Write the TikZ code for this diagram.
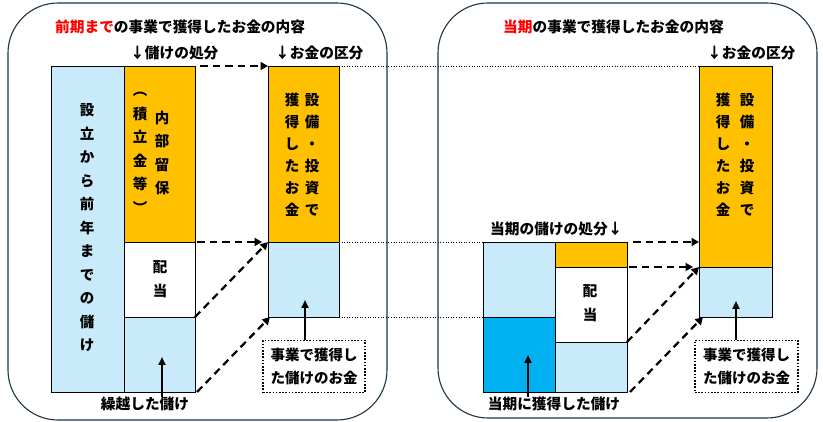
\documentclass[tikz,border=0pt]{standalone}
\usepackage{fontspec}
\setmainfont{Noto Sans CJK JP}
\usetikzlibrary{arrows.meta,calc}
\definecolor{orng}{HTML}{FFC000}
\definecolor{lblue}{HTML}{C8EAFA}
\definecolor{dblue}{HTML}{00B0F0}
\definecolor{framec}{HTML}{1C3445}
\begin{document}
\begin{tikzpicture}[x=1pt,y=-1pt,
 box/.style={draw=black, line width=0.8pt, inner sep=0pt, outer sep=0pt},
 vtext/.style={font=\fontsize{14.5}{23.5}\selectfont\bfseries, align=center, inner sep=0pt},
 vtextb/.style={font=\fontsize{14.5}{22}\selectfont\bfseries, align=center, inner sep=0pt},
 lbl/.style={font=\fontsize{14.7}{23}\selectfont\bfseries, inner sep=0pt},
 darr/.style={dash pattern=on 7.5pt off 5pt, line width=2.2pt, -{Triangle[length=7.5pt,width=8pt]}},
 sarr/.style={line width=2pt, -{Triangle[length=8pt,width=7pt]}},
 dline/.style={dash pattern=on 1pt off 1.6pt, line width=0.9pt},
 dbox/.style={draw=black, dash pattern=on 1.6pt off 1.6pt, line width=1.7pt, inner sep=0pt, align=center, font=\fontsize{14.5}{23}\selectfont\bfseries},
 panel/.style={draw=framec, line width=1.1pt, rounded corners=50pt, inner sep=0pt}]
\useasboundingbox (0,0) rectangle (823,422);

% panels
\node[panel, minimum width=379pt, minimum height=417pt] (PL) at (197.5,211.5) {};
\node[panel, minimum width=379pt, minimum height=415pt] (PR) at (627.5,210.5) {};

% titles
\node[lbl, anchor=west] (TL) at (55,27) {{\color{red}前期まで}の事業で獲得したお金の内容};
\node[lbl, anchor=west] (TR) at (503,27) {{\color{red}当期}の事業で獲得したお金の内容};
\node[lbl, anchor=west] (H1) at (130,53) {↓儲けの処分};
\node[lbl, anchor=west] (H2) at (275,53) {↓お金の区分};
\node[lbl, anchor=west] (H3) at (707,53) {↓お金の区分};
\node[lbl, anchor=west] (H4) at (490,229) {当期の儲けの処分↓};

% left boxes
\node[box, fill=lblue, minimum width=73pt, minimum height=326pt] (L1) at (87.5,229) {};
\node[box, fill=orng, minimum width=71pt, minimum height=176pt] (L2) at (159.5,154) {};
\node[box, fill=white, minimum width=71pt, minimum height=75pt] (L3) at (159.5,279.5) {};
\node[box, fill=lblue, minimum width=71pt, minimum height=75pt] (L4) at (159.5,354.5) {};
% middle boxes
\node[box, fill=orng, minimum width=71pt, minimum height=176pt] (M1) at (303.5,154) {};
\node[box, fill=lblue, minimum width=71pt, minimum height=75pt] (M2) at (303.5,279.5) {};
% right boxes
\node[box, fill=lblue, minimum width=72pt, minimum height=75pt] (R1) at (519,279.5) {};
\node[box, fill=dblue, minimum width=72pt, minimum height=75pt] (R2) at (519,354.5) {};
\node[box, fill=orng, minimum width=72pt, minimum height=25pt] (R3) at (591,254.5) {};
\node[box, fill=white, minimum width=72pt, minimum height=75pt] (R4) at (591,304.5) {};
\node[box, fill=lblue, minimum width=72pt, minimum height=50pt] (R5) at (591,367) {};
\node[box, fill=orng, minimum width=73pt, minimum height=201pt] (C1) at (735.5,166.5) {};
\node[box, fill=lblue, minimum width=73pt, minimum height=50pt] (C2) at (735.5,292) {};

% dotted guide lines
\draw[dline] (M1.north east) -- (C1.north west);
\draw[dline] (M2.north east) -- (R1.north west);
\draw[dline] (M2.south east) -- (R1.south west);

% vertical texts
\node[vtext] (V1) at (87,228) {設\\立\\か\\ら\\前\\年\\ま\\で\\の\\儲\\け};
\node[vtext] (V2) at (162,153) {内\\部\\留\\保};
\node[vtext] (V3) at (140,153) {︵\\積\\立\\金\\等\\︶};
\node[vtext] (V4) at (160,279) {配\\当};
\node[vtextb] (V5) at (312,155) {設\\備\\・\\投\\資\\で};
\node[vtextb] (V6) at (292,155) {獲\\得\\し\\た\\お\\金};
\node[vtextb] (V7) at (747,155) {設\\備\\・\\投\\資\\で};
\node[vtextb] (V8) at (723,155) {獲\\得\\し\\た\\お\\金};
\node[vtext] (V9) at (590,303) {配\\当};

% dashed arrows
\draw[darr] ([xshift=5pt]L2.north east) -- (M1.north west);
\draw[darr] ([xshift=2pt]L2.south east) -- ([xshift=-6pt]M1.south west);
\draw[darr] (L3.south east) -- (M1.south west);
\draw[darr] ([xshift=2pt]L4.south east) -- ([xshift=2pt]M2.south west);
\draw[darr] ([xshift=6pt]R3.north east) -- (C1.west |- R3.north);
\draw[darr] ([xshift=2pt]R3.south east) -- ([xshift=-6pt]C1.south west);
\draw[darr] (R4.south east) -- (C1.south west);
\draw[darr] ([xshift=3pt]R5.south east) -- ([xshift=4pt]C2.south west);

% labels with solid arrows
\node[lbl] (LB1) at (145,404) {繰越した儲け};
\coordinate (T1) at (162,357);
\draw[sarr] (T1 |- LB1.north) -- (T1);

\node[dbox, minimum width=102pt, minimum height=52pt] (B1) at (314,366.5) {事業で獲得し\\た儲けのお金};
\coordinate (T2) at (305,300);
\draw[sarr] (T2 |- B1.north) -- (T2);

\node[lbl] (LB2) at (554,404) {当期に獲得した儲け};
\coordinate (T3) at (528,355);
\draw[sarr] (T3 |- LB2.north) -- (T3);

\node[dbox, minimum width=103pt, minimum height=52pt] (B2) at (746.5,366.5) {事業で獲得し\\た儲けのお金};
\coordinate (T4) at (736,301);
\draw[sarr] (T4 |- B2.north) -- (T4);
\end{tikzpicture}
\end{document}
